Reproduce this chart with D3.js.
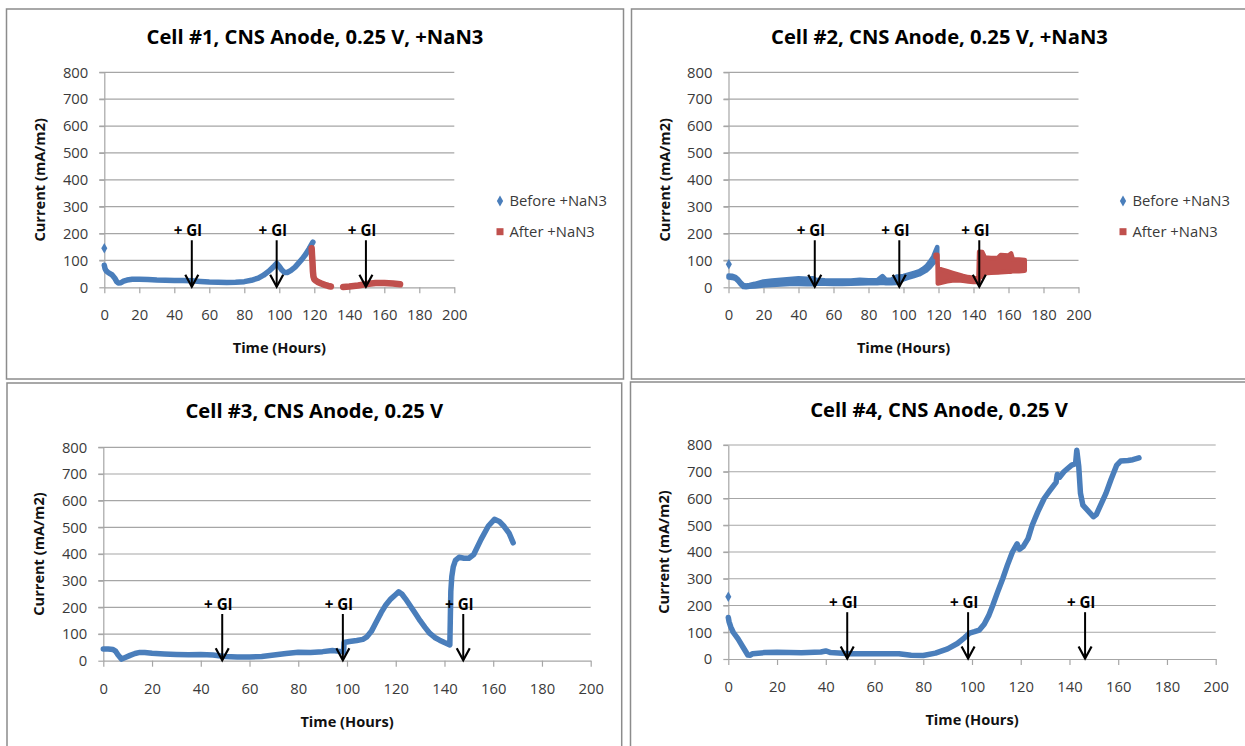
<!DOCTYPE html>
<html>
<head>
<meta charset="utf-8">
<script src="https://cdn.jsdelivr.net/npm/d3@7"></script>
<style>
  body { margin: 0; background: #fff; }
  svg { display: block; }
  text { font-family: "Open Sans", "Liberation Sans", sans-serif; }
</style>
</head>
<body>
<svg id="chart" width="1245" height="746"></svg>
<script>
// ---- axis ticks and labels ----
const hourTicks = [0, 20, 40, 60, 80, 100, 120, 140, 160, 180, 200];
const currentTicks = [0, 100, 200, 300, 400, 500, 600, 700, 800];
const xAxisTitle = "Time (Hours)";
const yAxisTitle = "Current (mA/m2)";
const legendLabels = ["Before +NaN3", "After +NaN3"];
const glucoseLabel = "+ Gl";
const cellTitles = [
  "Cell #1, CNS Anode, 0.25 V, +NaN3",
  "Cell #2, CNS Anode, 0.25 V, +NaN3",
  "Cell #3, CNS Anode, 0.25 V",
  "Cell #4, CNS Anode, 0.25 V"
];

// ---- Cell #1: [hour, current] ----
const cell1Before = [
  [0, 82], [0.4, 70], [1, 62], [2, 56], [3, 52], [4.5, 46], [6, 34], [7, 22], [8, 16],
  [9.5, 17], [11, 23], [13, 27], [16, 30], [20, 30], [25, 29], [30, 27], [35, 26], [40, 25],
  [45, 25], [50, 24], [55, 22], [60, 20], [65, 19], [70, 18], [75, 19], [80, 21], [84, 26],
  [88, 34], [91, 45], [94, 60], [96.5, 75], [98.5, 89], [100, 78], [101.5, 64], [103, 55],
  [104.5, 55], [106.5, 62], [109, 75], [111, 90], [113, 105], [115, 122], [117, 143], [119.2, 168]
];
const cell1BeforeSingles = [[0, 145]];
const cell1After = [
  [118.5, 145], [118.7, 120], [119, 90], [119.2, 60], [119.5, 40], [120, 30], [121, 24],
  [122, 20], [124, 14], [126, 9], [128, 5], [129.5, 3],
  null,
  [136.5, 1], [140, 3], [145, 7], [150, 12], [155, 16], [160, 16], [165, 14], [169, 11]
];
const cell1Glucose = [50, 98.5, 149.5];

// ---- Cell #2: noisy records as [hour, low, high] ----
const cell2Before = [
  [0, 36, 44], [2, 35, 43], [4, 31, 39], [5.5, 22, 30], [7, 10, 18], [8.5, 1, 9], [10, 0, 7],
  [12, 2, 9], [15, 3, 13], [20, 7, 22], [25, 9, 25], [30, 10, 28], [35, 12, 31], [40, 12, 34],
  [45, 11, 32], [48, 11, 34], [50, 13, 28], [55, 13, 26], [60, 12, 25], [65, 12, 25],
  [70, 13, 25], [75, 14, 28], [80, 15, 26], [85, 15, 26], [88, 17, 42], [90, 15, 28],
  [93, 15, 28], [96, 16, 40], [98, 22, 40], [100, 30, 42], [103, 36, 48], [106, 42, 54],
  [109, 48, 60], [111, 55, 68], [113, 62, 78], [115, 74, 94], [117, 90, 114],
  [118.5, 100, 138], [119.3, 104, 150]
];
const cell2BeforeSingles = [[0.2, 86]];
const cell2After = [
  [118.3, 112, 121], [119.4, 112, 121], [119.6, 14, 71], [122, 18, 66], [125, 22, 60],
  [128, 25, 54], [131, 26, 48], [134, 24, 42], [137, 22, 38], [140, 20, 35], [142.8, 20, 32],
  [143.2, 35, 132], [145, 40, 131], [146.5, 52, 111], [150, 54, 109], [154, 55, 110],
  [155.5, 56, 120], [160, 58, 118], [161.5, 58, 126], [162.5, 60, 104], [166, 60, 103],
  [169.3, 62, 102]
];
const cell2Glucose = [49.3, 97.6, 143.3];

// ---- Cell #3: [hour, current] ----
const cell3 = [
  [0, 44], [2, 44], [4, 42], [5, 36], [6, 22], [7.5, 6], [9, 12], [11, 20], [13, 27], [15, 31],
  [17, 31], [20, 28], [25, 25], [30, 23], [35, 22], [40, 23], [45, 21], [50, 16], [55, 14],
  [60, 14], [65, 16], [70, 21], [75, 27], [80, 32], [85, 31], [90, 34], [94, 38], [97, 35],
  [98.6, 32], [98.8, 68], [101, 72], [104, 76], [106.5, 80], [108, 88], [110, 110], [112, 145],
  [114, 180], [116, 210], [118, 232], [120, 248], [121.2, 258], [122.5, 250], [124, 232],
  [126, 205], [128, 178], [130, 150], [132, 125], [134, 102], [136, 87], [138, 77], [140, 68],
  [142.2, 59], [142.4, 160], [142.6, 260], [143, 315], [143.6, 352], [144.5, 376], [146, 388],
  [148, 384], [150, 384], [152, 398], [155, 455], [158, 505], [160.5, 530], [162.5, 522],
  [164.5, 503], [166.5, 478], [168.2, 442]
];
const cell3Glucose = [48.8, 98.3, 147.7];

// ---- Cell #4: [hour, current] ----
const cell4 = [
  [0, 155], [0.3, 140], [1, 120], [2, 100], [4, 75], [6, 45], [8, 15], [9, 14], [10, 20],
  [15, 24], [20, 25], [30, 23], [38, 26], [40, 30], [42, 24], [50, 20], [60, 20], [70, 20],
  [75, 14], [80, 13], [85, 22], [90, 38], [94, 58], [97, 80], [99, 97], [101, 102], [103, 108],
  [105, 130], [107, 165], [108.5, 200], [110.5, 250], [112.6, 300], [114.5, 350], [116.6, 400],
  [118.5, 430], [119.5, 410], [121, 420], [123, 450], [124.7, 500], [127, 550], [129.6, 600],
  [132, 630], [134.5, 660], [135, 690], [136, 680], [137.7, 700], [140.9, 725], [142.5, 730],
  [143, 780], [143.8, 720], [144.5, 620], [145.5, 575], [147, 560], [149.8, 532], [151, 540],
  [153, 580], [155, 620], [157, 670], [159.4, 725], [161, 740], [164, 742], [166, 745], [168.5, 752]
];
const cell4Singles = [[0, 233]];
const cell4Glucose = [48.8, 98.4, 146.4];

// ---- styling ----
const BLUE = "#4a7ebb";
const RED = "#c0504d";
const GLUCOSE_ARROW_TOP = 175;   // current value where each arrow starts
const FONT = "'Open Sans', 'Liberation Sans', sans-serif";
const TICK_SIZE = 14.8;
const LABEL_SIZE = 14.6;
const TITLE_WIDTH = 337;         // rendered width of the longest chart title

const panels = [
  {
    title: cellTitles[0], box: [6.5, 9, 617, 370], plot: [104.3, 454.3, 72.3, 287.3], titleY: 37.3,
    legend: [500, 201],
    lines: [{ data: cell1Before, color: BLUE, width: 5.5 }, { data: cell1After, color: RED, width: 6.5 }],
    bands: [],
    singles: [{ data: cell1BeforeSingles, color: BLUE }],
    glucose: cell1Glucose
  },
  {
    title: cellTitles[1], box: [631.5, 9, 616, 370], plot: [728.5, 1078.5, 72.3, 287.3], titleY: 37,
    legend: [1123, 201],
    lines: [],
    bands: [{ data: cell2Before, color: BLUE }, { data: cell2After, color: RED }],
    singles: [{ data: cell2BeforeSingles, color: BLUE }],
    glucose: cell2Glucose
  },
  {
    title: cellTitles[2], box: [7, 383, 614.7, 380], plot: [103.3, 590.7, 447.3, 660.7], titleY: 411.3,
    legend: null,
    lines: [{ data: cell3, color: BLUE, width: 5.5 }],
    bands: [],
    singles: [],
    glucose: cell3Glucose
  },
  {
    title: cellTitles[3], box: [630.5, 382, 617, 380], plot: [728.3, 1215.7, 445, 659], titleY: 409.7,
    legend: null,
    lines: [{ data: cell4, color: BLUE, width: 5.5 }],
    bands: [],
    singles: [{ data: cell4Singles, color: BLUE }],
    glucose: cell4Glucose
  }
];

const svg = d3.select("#chart");

// title size: measure the longest title once and scale to its width
const probe = svg.append("text")
  .attr("font-size", 20).attr("font-weight", "bold").style("font-family", FONT)
  .text(cellTitles[0]);
const titleSize = 20 * TITLE_WIDTH / probe.node().getComputedTextLength();
probe.remove();

panels.forEach(p => {
  const [bx, by, bw, bh] = p.box;
  const [x0, x1, yTop, yZero] = p.plot;
  const g = svg.append("g");

  // chart frame
  g.append("rect")
    .attr("x", bx).attr("y", by).attr("width", bw).attr("height", bh)
    .attr("fill", "#fff").attr("stroke", "#8c8c8c").attr("stroke-width", 1.5);

  const x = d3.scaleLinear().domain([0, 200]).range([x0, x1]);
  const y = d3.scaleLinear().domain([0, 800]).range([yZero, yTop]);

  // horizontal gridlines
  g.append("g").selectAll("line")
    .data(currentTicks.filter(v => v > 0))
    .join("line")
    .attr("x1", x0 - 5).attr("x2", x1)
    .attr("y1", d => y(d)).attr("y2", d => y(d))
    .attr("stroke", "#a6a6a6").attr("stroke-width", 1.2);

  // y axis
  const yAxis = g.append("g")
    .attr("transform", `translate(${x0},0)`)
    .call(d3.axisLeft(y).tickValues(currentTicks).tickSize(5).tickSizeOuter(0).tickPadding(11));
  yAxis.select(".domain").attr("stroke", "#a6a6a6").attr("stroke-width", 1.2);
  yAxis.selectAll(".tick line").attr("stroke", "#a6a6a6").attr("stroke-width", 1.2);
  yAxis.selectAll(".tick text")
    .attr("font-size", TICK_SIZE).attr("fill", "#3a3a3a")
    .style("font-family", FONT);

  // x axis
  const xAxis = g.append("g")
    .attr("transform", `translate(0,${yZero})`)
    .call(d3.axisBottom(x).tickValues(hourTicks).tickSize(6).tickSizeOuter(0));
  xAxis.select(".domain").attr("stroke", "#a6a6a6").attr("stroke-width", 1.2);
  xAxis.selectAll(".tick line").attr("stroke", "#a6a6a6").attr("stroke-width", 1.2);
  xAxis.selectAll(".tick text")
    .attr("y", 28).attr("dy", "0.35em")
    .attr("font-size", TICK_SIZE).attr("fill", "#3a3a3a")
    .style("font-family", FONT);

  // titles
  g.append("text")
    .attr("x", bx + bw / 2).attr("y", p.titleY).attr("dy", "0.35em")
    .attr("text-anchor", "middle").attr("font-size", titleSize).attr("font-weight", "bold")
    .attr("fill", "#000").text(p.title);
  g.append("text")
    .attr("x", (x0 + x1) / 2).attr("y", yZero + 61).attr("dy", "0.35em")
    .attr("text-anchor", "middle").attr("font-size", LABEL_SIZE).attr("font-weight", "bold")
    .attr("fill", "#111").text(xAxisTitle);
  g.append("text")
    .attr("transform", `translate(${x0 - 64},${(yTop + yZero) / 2}) rotate(-90)`)
    .attr("dy", "0.35em")
    .attr("text-anchor", "middle").attr("font-size", LABEL_SIZE).attr("font-weight", "bold")
    .attr("fill", "#111").text(yAxisTitle);

  const plotArea = g.append("g");

  // noisy records drawn as low/high bands
  const area = d3.area()
    .x(d => x(d[0])).y0(d => y(d[1])).y1(d => y(d[2]));
  p.bands.forEach(s => {
    plotArea.append("path")
      .attr("d", area(s.data))
      .attr("fill", s.color).attr("stroke", s.color)
      .attr("stroke-width", 4.5).attr("stroke-linejoin", "round");
  });

  // continuous records
  const line = d3.line()
    .defined(d => d !== null)
    .x(d => x(d[0])).y(d => y(d[1]));
  p.lines.forEach(s => {
    plotArea.append("path")
      .attr("d", line(s.data))
      .attr("fill", "none").attr("stroke", s.color)
      .attr("stroke-width", s.width)
      .attr("stroke-linejoin", "round").attr("stroke-linecap", "round");
  });

  // isolated readings
  const diamond = d3.symbol(d3.symbolDiamond, 32);
  p.singles.forEach(s => {
    plotArea.selectAll(null).data(s.data).join("path")
      .attr("transform", d => `translate(${x(d[0])},${y(d[1])})`)
      .attr("d", diamond).attr("fill", s.color);
  });

  // glucose additions: downward arrows with open heads
  const ann = g.append("g");
  p.glucose.forEach(h => {
    const ax = x(h), top = y(GLUCOSE_ARROW_TOP), tip = y(0) - 0.5;
    ann.append("line")
      .attr("x1", ax).attr("x2", ax).attr("y1", top).attr("y2", tip)
      .attr("stroke", "#000").attr("stroke-width", 2);
    ann.append("path")
      .attr("d", `M${ax - 6.5},${tip - 12} L${ax},${tip} L${ax + 6.5},${tip - 12}`)
      .attr("fill", "none").attr("stroke", "#000").attr("stroke-width", 2.2)
      .attr("stroke-linejoin", "miter");
    ann.append("text")
      .attr("x", ax - 4).attr("y", top - 4.5)
      .attr("text-anchor", "middle").attr("font-size", LABEL_SIZE + 0.6).attr("font-weight", "bold")
      .attr("fill", "#000").text(glucoseLabel);
  });

  // legend
  if (p.legend) {
    const [lx, ly] = p.legend;
    const lg = g.append("g");
    lg.append("path")
      .attr("transform", `translate(${lx},${ly})`)
      .attr("d", d3.symbol(d3.symbolDiamond, 34)).attr("fill", BLUE);
    lg.append("rect")
      .attr("x", lx - 3.5).attr("y", ly + 30.7 - 3.5).attr("width", 7).attr("height", 7)
      .attr("fill", RED);
    lg.selectAll("text").data(legendLabels).join("text")
      .attr("x", lx + 9.5).attr("y", (d, i) => ly + i * 30.7).attr("dy", "0.35em")
      .attr("font-size", TICK_SIZE).attr("fill", "#3a3a3a").text(d => d);
  }
});
</script>
</body>
</html>
